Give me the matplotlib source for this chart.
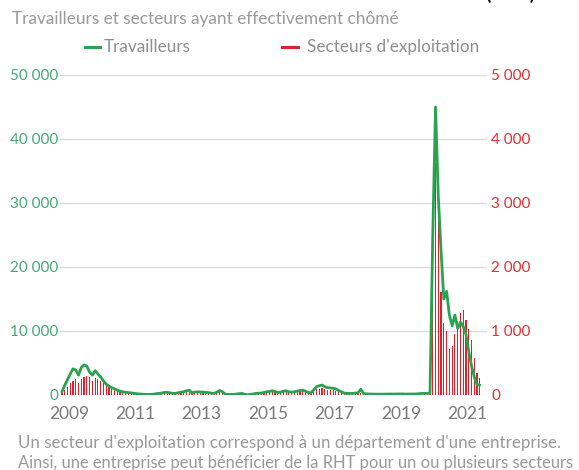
import matplotlib
matplotlib.use("Agg")
import matplotlib.pyplot as plt
from matplotlib.lines import Line2D
import numpy as np

plt.rcParams['font.family'] = ['Lato', 'DejaVu Sans']

title = "Travailleurs et secteurs ayant effectivement chômé"
top_cut = "(RHT)"
series_names = ["Travailleurs", "Secteurs d'exploitation"]
footnote = ["Un secteur d'exploitation correspond à un département d'une entreprise.",
            "Ainsi, une entreprise peut bénéficier de la RHT pour un ou plusieurs secteurs"]
start_year = 2009
year_ticks = [2009, 2011, 2013, 2015, 2017, 2019, 2021]
left_ticks = [0, 10000, 20000, 30000, 40000, 50000]
left_labels = ["0", "10 000", "20 000", "30 000", "40 000", "50 000"]
right_ticks = [0, 1000, 2000, 3000, 4000, 5000]
right_labels = ["0", "1 000", "2 000", "3 000", "4 000", "5 000"]

# monthly values, Jan 2009 - Aug 2021
workers = [
    500, 1500, 2400, 3300, 4100, 3900, 3100, 4300, 4700, 4500, 3600, 3100,
    3800, 3300, 2800, 2200, 1700, 1400, 1150, 950, 750, 600, 500, 420,
    380, 320, 260, 200, 150, 120, 100, 100, 100, 120, 200, 250,
    300, 400, 420, 350, 250, 250, 350, 450, 500, 650, 750, 350,
    450, 500, 480, 450, 400, 380, 280, 250, 450, 700, 500, 150,
    100, 100, 100, 150, 200, 250, 120, 50, 100, 150, 250, 280,
    300, 400, 500, 550, 650, 550, 380, 450, 600, 650, 500, 450,
    500, 600, 700, 750, 600, 400, 350, 800, 1300, 1450, 1550, 1300,
    1150, 1100, 1050, 950, 700, 500, 300, 250, 250, 250, 300, 350,
    900, 250, 180, 150, 150, 140, 130, 130, 130, 140, 150, 150,
    150, 150, 160, 170, 150, 150, 140, 150, 160, 200, 250, 250,
    250, 300, 25000, 45000, 31000, 22500, 15000, 16200, 12500, 10800, 12500, 10400,
    11400, 10700, 9500, 6800, 4600, 2800, 1600, 1550]

sectors = [
    40, 80, 130, 180, 225, 250, 190, 245, 275, 295, 285, 225,
    260, 245, 225, 180, 155, 130, 105, 90, 70, 55, 45, 35,
    28, 22, 18, 14, 12, 10, 9, 8, 8, 10, 12, 15,
    20, 25, 28, 25, 18, 18, 25, 30, 35, 40, 45, 25,
    30, 35, 32, 30, 28, 25, 20, 18, 30, 45, 35, 12,
    8, 8, 8, 10, 15, 18, 10, 5, 20, 25, 28, 30,
    30, 35, 40, 42, 48, 40, 30, 38, 45, 50, 42, 38,
    42, 48, 55, 60, 50, 35, 32, 60, 90, 100, 105, 92,
    85, 80, 75, 68, 50, 38, 30, 25, 22, 22, 22, 25,
    30, 15, 10, 8, 6, 5, 5, 5, 5, 6, 6, 7,
    7, 6, 6, 6, 5, 5, 6, 7, 8, 12, 15, 15,
    15, 20, 2700, 3620, 2940, 1610, 1130, 1000, 713, 760, 950, 1150,
    1280, 1330, 1170, 1025, 860, 580, 338, 268]

green = "#2aa34f"
green_lbl = "#45a873"
red = "#d9232d"
red_lbl = "#e0302f"
gray = "#8f8f8f"

W, H = 579, 470
fig = plt.figure(figsize=(W / 100, H / 100), dpi=100)
ax = fig.add_axes([60 / W, 1 - 395 / H, (487 - 60) / W, 320 / H])
ax2 = ax.twinx()

x = start_year + np.arange(len(workers)) / 12.0

ax2.bar(x, sectors, width=0.42 / 12, color=red, linewidth=0)
ax.plot(x, workers, color=green, lw=2.0, solid_joinstyle='round', solid_capstyle='round')

ax.set_zorder(ax2.get_zorder() + 1)
ax.patch.set_visible(False)

ax.set_ylim(0, 50000)
ax2.set_ylim(0, 5000)
ax.set_xlim(start_year - 0.7 / 12, start_year + 153.6 / 12)

ax.set_yticks(left_ticks)
ax.set_yticklabels(left_labels)
ax2.set_yticks(right_ticks)
ax2.set_yticklabels(right_labels)
ax.set_xticks([y + 2.5 / 12 for y in year_ticks])
ax.set_xticklabels([str(y) for y in year_ticks])

ax2.grid(False)
for t in left_ticks:
    ax2.axhline(t / 10, color="#dcdcdc", lw=1.0, zorder=0)

for a in (ax, ax2):
    for s in a.spines.values():
        s.set_visible(False)
ax.tick_params(axis='y', length=0, labelsize=11, labelcolor=green_lbl, pad=1)
ax2.tick_params(axis='y', length=0, labelsize=11, labelcolor=red_lbl, pad=3)
ax.tick_params(axis='x', length=0, labelsize=12.5, labelcolor="#7a7a7a", pad=8)

fig.text(12 / W, 1 - 19 / H, title, fontsize=12.4, color="#9a9a9a", va='center', ha='left')
fig.text(510 / W, 1.0 + 0.5 / H, top_cut, fontsize=14, fontweight='bold', color="#111111",
         va='baseline', ha='center')

ly = 1 - 47 / H
fig.add_artist(Line2D([85 / W, 100 / W], [ly, ly], transform=fig.transFigure, color=green, lw=2.2))
fig.text(104 / W, ly, series_names[0], fontsize=12.3, color=gray, va='center', ha='left')
fig.add_artist(Line2D([282 / W, 298 / W], [ly, ly], transform=fig.transFigure, color=red, lw=2.2))
fig.text(307 / W, ly, series_names[1], fontsize=12.3, color=gray, va='center', ha='left')

fig.text(18 / W, 1 - 443 / H, footnote[0], fontsize=12.2, color="#999999", va='center', ha='left')
fig.text(18 / W, 1 - 463 / H, footnote[1], fontsize=11.9, color="#999999", va='center', ha='left')

fig.savefig("out.png", dpi=100)
